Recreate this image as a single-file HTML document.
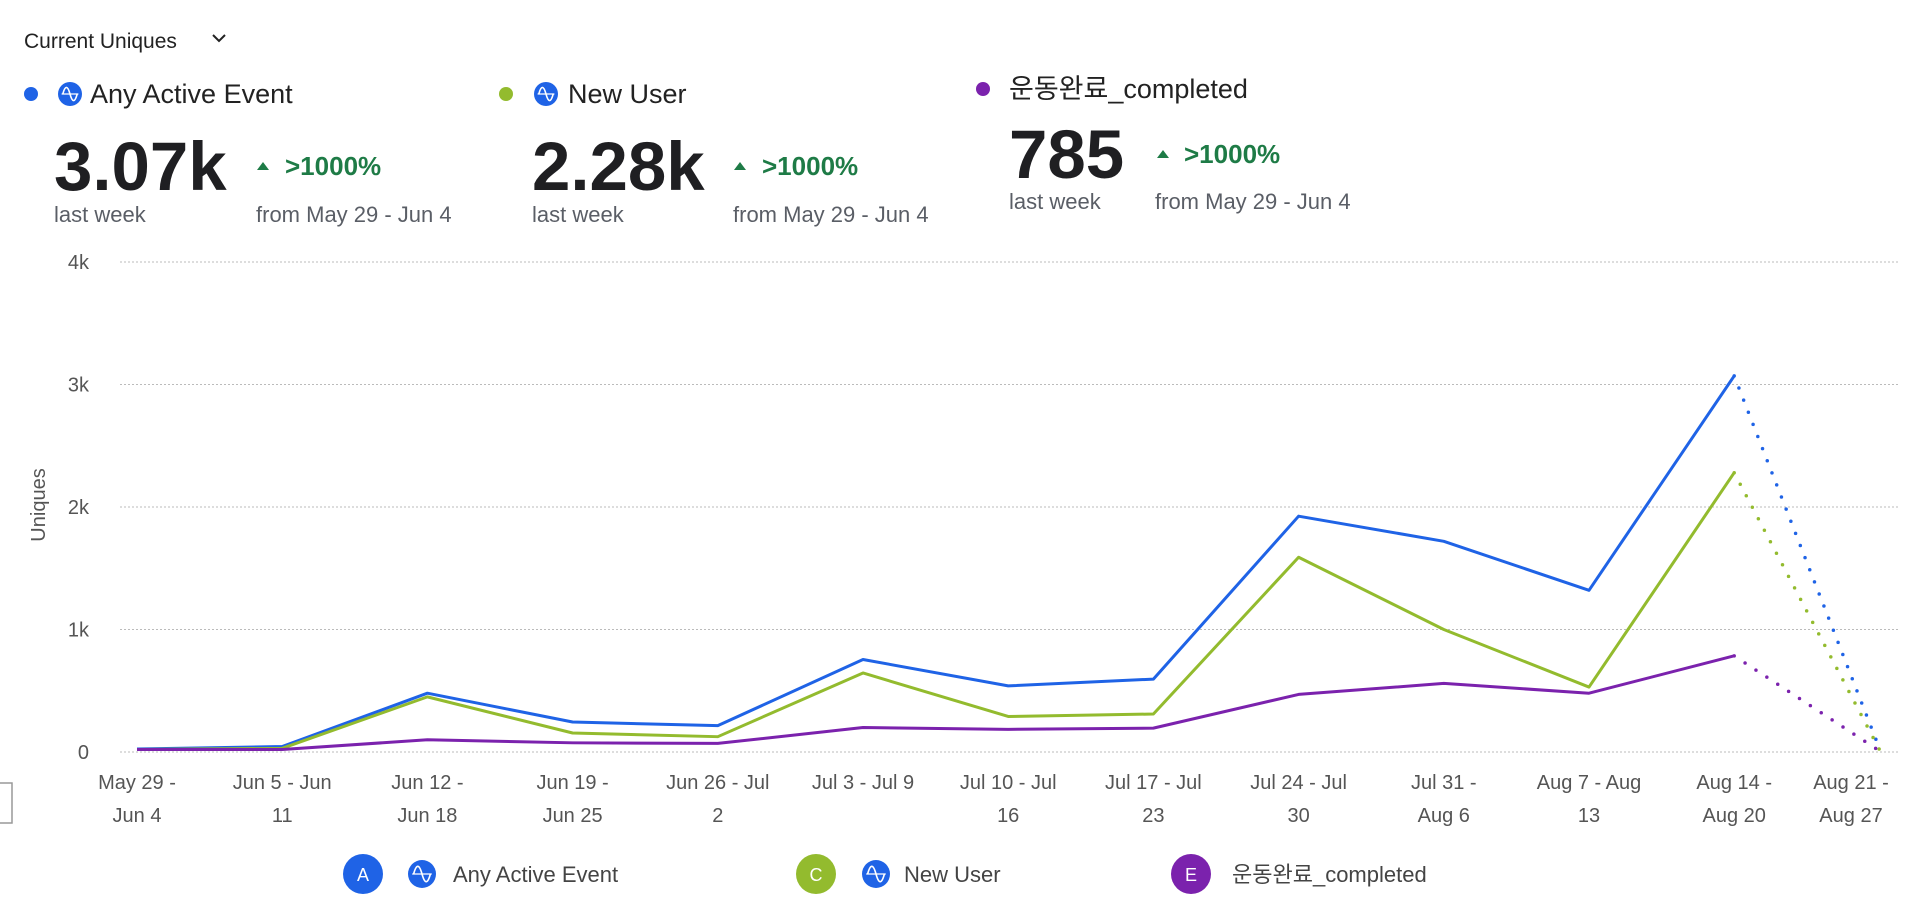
<!DOCTYPE html>
<html><head><meta charset="utf-8"><style>
html,body{margin:0;padding:0;background:#fff;}
svg{display:block;font-family:"Liberation Sans","Noto Sans CJK KR",sans-serif;}
</style></head><body>
<svg id="chart" width="1918" height="902" viewBox="0 0 1918 902">
<g>
<text x="24" y="48" font-size="21" fill="#222">Current Uniques</text>
<path d="M213 35 l6 6 l6 -6" stroke="#222" stroke-width="2" fill="none"/>
</g>
<g id="header"></g>
<rect x="-2" y="783" width="14" height="40" fill="none" stroke="#999" stroke-width="1.5"/>
<g id="grid"></g><g id="series"></g><g id="xlabels"></g>
<text transform="translate(45,505) rotate(-90)" text-anchor="middle" font-size="20" fill="#555">Uniques</text>
<g id="legend"></g>
</svg>
<script>
const categories=[["May 29 -","Jun 4"],["Jun 5 - Jun","11"],["Jun 12 -","Jun 18"],["Jun 19 -","Jun 25"],["Jun 26 - Jul","2"],["Jul 3 - Jul 9",""],["Jul 10 - Jul","16"],["Jul 17 - Jul","23"],["Jul 24 - Jul","30"],["Jul 31 -","Aug 6"],["Aug 7 - Aug","13"],["Aug 14 -","Aug 20"],["Aug 21 -","Aug 27"]];
const seriesNames=["Any Active Event","New User","운동완료_completed"];
const seriesColors=["#1f63e6","#93bb2e","#7b22ad"];
const anyActive=[25,45,480,245,215,755,540,595,1925,1720,1320,3070,30];
const newUser=[20,30,450,155,125,645,290,310,1590,1000,530,2280,20];
const completed=[20,20,100,75,70,200,185,195,470,560,480,785,10];
const yTicks=[0,1000,2000,3000,4000];
const yTickLabels=["0","1k","2k","3k","4k"];
const headlineValues=["3.07k","2.28k","785"];
const ns="http://www.w3.org/2000/svg";
function el(t,a,p,txt){const e=document.createElementNS(ns,t);for(const k in a)e.setAttribute(k,a[k]);if(txt!==undefined)e.textContent=txt;p.appendChild(e);return e;}
const X0=137,STEP=145.2,Y0=752,YMAX=4000,YTOP=262;
const xs=i=>X0+i*STEP;
const ys=v=>Y0-(v/YMAX)*(Y0-YTOP);
const grid=document.getElementById('grid');
yTicks.forEach((t,i)=>{
 const l=el('line',{x1:120,x2:1898,y1:ys(t),y2:ys(t),stroke:'#bbb','stroke-width':1,'stroke-dasharray':'2 2'},grid);
 
 
 const tx=el('text',{x:89,y:ys(t)+7,'text-anchor':'end','font-size':20,fill:'#555'},grid,yTickLabels[i]);
 
 
});
const xl=document.getElementById('xlabels');
categories.forEach((c,i)=>{
 let cx=xs(i); if(i===categories.length-1) cx=1851;
 const g=el('text',{x:cx,y:789,'text-anchor':'middle','font-size':20,fill:'#555'},xl);
 
 
 el('tspan',{x:cx,dy:0},g,c[0]);
 el('tspan',{x:cx,dy:33},g,c[1]);
});
const sg=document.getElementById('series');
[anyActive,newUser,completed].forEach((d,s)=>{
 const n=d.length;
 let p=d.slice(0,n-1).map((v,i)=>(i?'L':'M')+xs(i)+' '+ys(v)).join(' ');
 const solid=el('path',{d:p,fill:'none',stroke:seriesColors[s],'stroke-width':3,'stroke-linejoin':'round'},sg);
 
 
 const dot=el('path',{d:'M'+xs(n-2)+' '+ys(d[n-2])+' L'+xs(n-1)+' '+ys(d[n-1]),fill:'none',stroke:seriesColors[s],'stroke-width':3.5,'stroke-dasharray':'0 13','stroke-linecap':'round'},sg);
 
 
});
const hd=document.getElementById('header');
const hx=[[31,70,90,54,263,285,256,94,190,214],[506,546,568,532,740,762,733,94,190,214],[983,null,1009,1009,1163,1184,1155,89,178,201]];
function icon(p,cx,cy,r){el('circle',{cx:cx,cy:cy,r:r,fill:'#1f63e6'},p);el('path',{d:`M${cx-r*0.6} ${cy} q${r*0.3} -${r*1.1} ${r*0.6} 0 t${r*0.6} 0`,stroke:'#fff','stroke-width':1.6,fill:'none'},p);el('line',{x1:cx-r*0.7,x2:cx+r*0.7,y1:cy,y2:cy,stroke:'#fff','stroke-width':1.2},p);}
hx.forEach((h,i)=>{
 const g=el('g',{},hd);
 
 
 el('circle',{cx:h[0],cy:h[7],r:7,fill:seriesColors[i]},g);
 if(h[1]) icon(g,h[1],h[7],12);
 el('text',{x:h[2],y:h[7]+9,'font-size':27,fill:'#222'},g,seriesNames[i]);
 el('text',{x:h[3],y:h[8],'font-size':69,'font-weight':'bold',fill:'#1f1f22'},g,headlineValues[i]);
 el('text',{x:h[3],y:h[9]+8,'font-size':22,fill:'#5a5e66'},g,'last week');
 const ty=h[8]-20;
 el('path',{d:`M${h[4]-6} ${ty} l6 -8 l6 8 z`,fill:'#1e7b46'},g);
 el('text',{x:h[5],y:ty+5,'font-size':26,'font-weight':'bold',fill:'#1e7b46'},g,'>1000%');
 el('text',{x:h[6],y:h[9]+8,'font-size':22,fill:'#5a5e66'},g,'from May 29 - Jun 4');
});
const lg=document.getElementById('legend');
const lp=[[363,422,453,'A'],[816,876,904,'C'],[1191,null,1232,'E']];
lp.forEach((p,i)=>{
 const g=el('g',{},lg);
 
 
 el('circle',{cx:p[0],cy:874,r:20,fill:seriesColors[i]},g);
 el('text',{x:p[0],y:881,'text-anchor':'middle','font-size':18,fill:'#fff'},g,p[3]);
 if(p[1]) icon(g,p[1],874,14);
 el('text',{x:p[2],y:882,'font-size':22,fill:'#444'},g,seriesNames[i]);
});
</script>
</body></html>
